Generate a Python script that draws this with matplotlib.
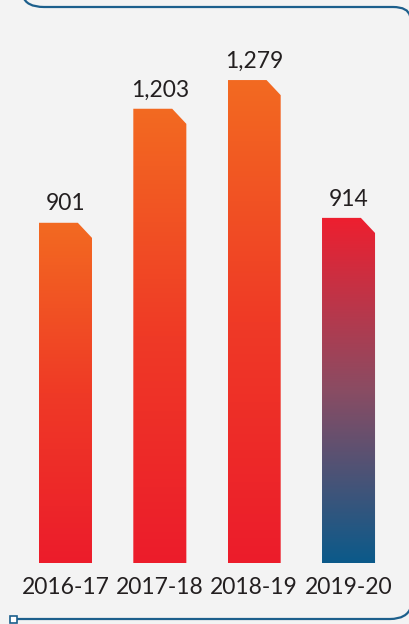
import numpy as np
import matplotlib
matplotlib.use("Agg")
import matplotlib.pyplot as plt
from matplotlib.path import Path
from matplotlib.patches import PathPatch, Rectangle
from matplotlib.colors import LinearSegmentedColormap

# data
years = ["2016-17", "2017-18", "2018-19", "2019-20"]
values = [901, 1203, 1279, 914]
value_labels = ["901", "1,203", "1,279", "914"]

# colours
orange = "#F36A21"
red = "#EC1C2B"
blue = "#0B5A8A"
line_blue = "#1C5F8C"
bg = "#F3F3F3"
txt = "#231F20"

plt.rcParams["font.family"] = ["Lato", "DejaVu Sans"]

fig = plt.figure(figsize=(4.09, 6.24), dpi=100)
fig.patch.set_facecolor(bg)

# background axes in pixel coords for the frame lines
axb = fig.add_axes([0, 0, 1, 1])
axb.set_xlim(0, 409)
axb.set_ylim(624, 0)
axb.axis("off")

top = Path([(23, -4), (26, 7), (44, 7), (393, 7), (408, 7), (410, 16)],
           [Path.MOVETO, Path.CURVE3, Path.CURVE3, Path.LINETO, Path.CURVE3, Path.CURVE3])
axb.add_patch(PathPatch(top, fill=False, edgecolor=line_blue, lw=1.6))
bot = Path([(17, 619), (390, 619), (407, 619), (411, 607)],
           [Path.MOVETO, Path.LINETO, Path.CURVE3, Path.CURVE3])
axb.add_patch(PathPatch(bot, fill=False, edgecolor=line_blue, lw=1.6))
axb.add_patch(Rectangle((10, 616), 7, 7, facecolor="white", edgecolor=line_blue, lw=1.2))

# chart axes
ax = fig.add_axes([0, 0, 1, 1])
ax.set_facecolor("none")
ax.axis("off")

width = 0.562
cut_x = 0.15
cut_y = 40

grad_orange = LinearSegmentedColormap.from_list("o", [red, "#EF3A26", orange])
grad_blue = LinearSegmentedColormap.from_list("b", [blue, "#8A4C63", "#EE1F2F"])
g = np.linspace(0, 1, 256).reshape(-1, 1)

for i, v in enumerate(values):
    x0 = i - width / 2
    x1 = i + width / 2
    verts = [(x0, 0), (x0, v), (x1 - cut_x, v), (x1, v - cut_y), (x1, 0), (x0, 0)]
    path = Path(verts, [Path.MOVETO] + [Path.LINETO] * 4 + [Path.CLOSEPOLY])
    patch = PathPatch(path, facecolor="none", edgecolor="none")
    ax.add_patch(patch)
    cmap = grad_blue if i == 3 else grad_orange
    im = ax.imshow(g, cmap=cmap, origin="lower", extent=(x0, x1, 0, v),
                   aspect="auto", interpolation="bicubic")
    im.set_clip_path(patch)
    ax.annotate(value_labels[i], (i, v), xytext=(0, 6), textcoords="offset points",
                ha="center", va="bottom", fontsize=16.5, color=txt)
    ax.annotate(years[i], (i, 0), xytext=(0, -10), textcoords="offset points",
                ha="center", va="top", fontsize=16.5, color=txt)

ax.set_xlim(-0.694, 3.641)
ax.set_ylim(-161.5, 1491)

fig.savefig("out.png", dpi=100, facecolor=bg)
